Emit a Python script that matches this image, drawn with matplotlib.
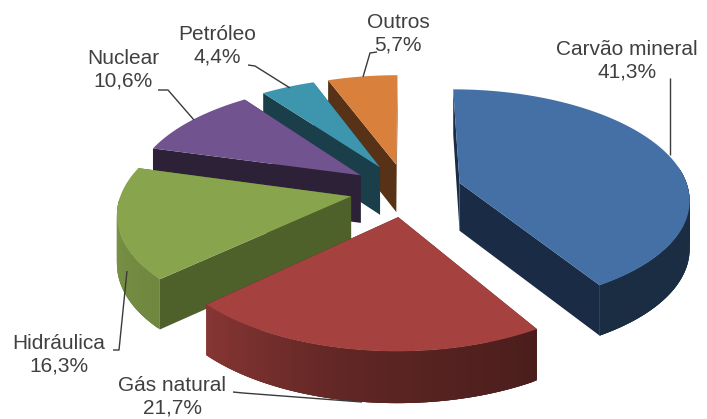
import numpy as np
import matplotlib
matplotlib.use('Agg')
import matplotlib.pyplot as plt
from matplotlib.patches import Polygon

plt.rcParams['font.family'] = ['Liberation Sans', 'DejaVu Sans']

# matriz energetica, em % (sentido horario a partir do topo)
fontes = ['Carvão mineral', 'Gás natural', 'Hidráulica', 'Nuclear', 'Petróleo', 'Outros']
valores = [41.3, 21.7, 16.3, 10.6, 4.4, 5.7]

cores_topo = ['#4470A6', '#A5423F', '#88A44D', '#71548F', '#3E96AE', '#D9813C']
cores_lado = ['#1A2C45', '#4A1A18', '#4F612B', '#2D2138', '#1A3E4A', '#573217']

# parametros da projecao em perspectiva do disco
CX, CY = 406, 190
RX, RY = 229, 108
PERSP = 0.135
EXPLODE = 0.245
ESPESSURA = 48

# sombreamento da face curva conforme o angulo
ang_luz = [0, 90, 148, 149, 190, 226.8, 256, 360]
fator_luz = [0.40, 0.40, 0.40, 0.45, 0.58, 0.82, 0.88, 0.88]

# posicao dos rotulos (centro do texto) e linhas de chamada, em pixels
pos_rotulos = [(627, 61), (172, 397), (59, 355), (123, 70), (217, 46), (398, 34)]
chamadas = [
    [(670, 155), (670, 78)],
    [(362, 402), (243, 393), (233, 392)],
    [(127, 271), (119, 350), (113, 350)],
    [(194, 120), (168, 90), (158, 90)],
    [(290, 88), (255, 66), (248, 65)],
    [(363, 77), (370, 53), (377, 52)],
]


def projetar(x, y, baixo=False):
    # plano do disco -> tela; y positivo aponta para o fundo
    esc = 1 / (1 + PERSP * y)
    sx = CX + RX * x * esc
    sy = CY - RY * y * esc
    if baixo:
        sy = sy + ESPESSURA / (1 + 0.06 * y)
    return sx, sy


def escurecer(cor, f):
    r, g, b = matplotlib.colors.to_rgb(cor)
    return (r * f, g * f, b * f)


def desenhar_fatia(ax, ini, fim, cor_topo, cor_lado):
    meio = np.radians((ini + fim) / 2)
    ox = EXPLODE * np.sin(meio)
    oy = EXPLODE * np.cos(meio)
    th = np.radians(np.linspace(ini, fim, 120))
    xs = ox + np.sin(th)
    ys = oy + np.cos(th)

    # faces radiais
    for x, y in [(xs[0], ys[0]), (xs[-1], ys[-1])]:
        a = projetar(ox, oy)
        b = projetar(x, y)
        c = projetar(x, y, True)
        d = projetar(ox, oy, True)
        ax.add_patch(Polygon([a, b, c, d], fc=cor_lado, ec='none'))

    # face curva, em tiras sobrepostas para fazer o degrade sem emendas;
    # o arco do fundo nao aparece
    for i in range(len(th) - 1):
        graus = np.degrees(th[i])
        if graus < 80 or graus > 268:
            continue
        f = np.interp(graus, ang_luz, fator_luz)
        cor = escurecer(cor_topo, f)
        j = min(i + 3, len(th) - 1)
        q = [projetar(xs[i], ys[i]), projetar(xs[j], ys[j]),
             projetar(xs[j], ys[j], True), projetar(xs[i], ys[i], True)]
        ax.add_patch(Polygon(q, fc=cor, ec='none'))

    # topo
    tx, ty = projetar(np.r_[ox, xs], np.r_[oy, ys])
    ax.add_patch(Polygon(np.c_[tx, ty], fc=cor_topo, ec='none'))


fig = plt.figure(figsize=(7.07, 4.19), dpi=100)
ax = fig.add_axes([0, 0, 1, 1])
ax.set_xlim(0, 707)
ax.set_ylim(419, 0)
ax.axis('off')

limites = np.r_[0, np.cumsum(valores)] / sum(valores) * 360

# do fundo para a frente
for i in [5, 4, 3, 2, 0, 1]:
    desenhar_fatia(ax, limites[i], limites[i + 1], cores_topo[i], cores_lado[i])

for i in range(len(fontes)):
    pts = np.array(chamadas[i])
    ax.plot(pts[:, 0], pts[:, 1], color='#3a3a3a', lw=1.0, solid_capstyle='butt')
    rotulo = fontes[i] + '\n' + f'{valores[i]:.1f}'.replace('.', ',') + '%'
    ax.text(pos_rotulos[i][0], pos_rotulos[i][1], rotulo, ha='center', va='center',
            fontsize=15, color='#404040', linespacing=1.25)

fig.savefig('out.png', dpi=100)
